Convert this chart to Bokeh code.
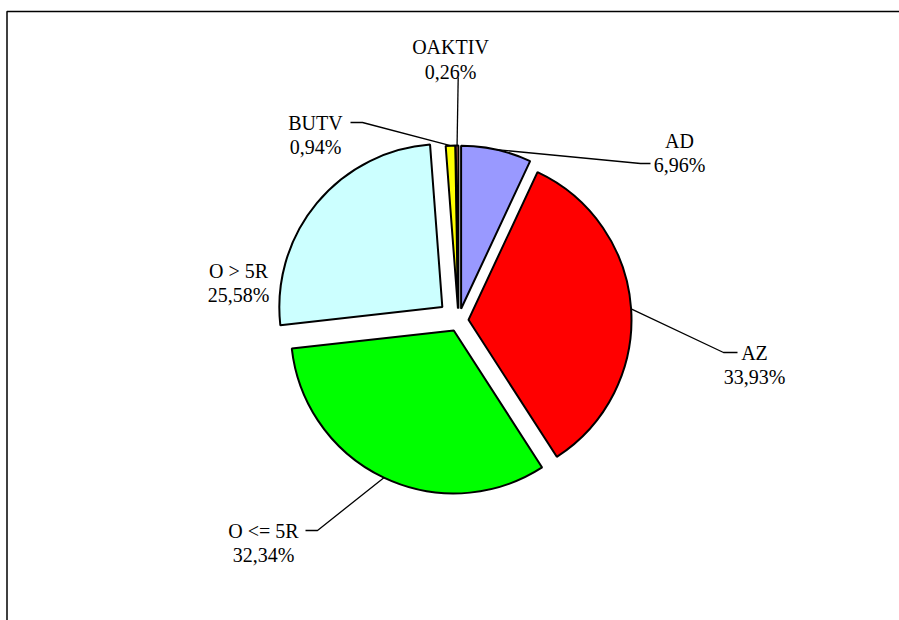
import math
from bokeh.plotting import figure
from bokeh.models import Range1d, ColumnDataSource
from bokeh.core.properties import value
from bokeh.embed import file_html
from bokeh.resources import INLINE

# ---- data ----
names = ["AD", "AZ", "O <= 5R", "O > 5R", "BUTV", "OAKTIV"]
values = [6.96, 33.93, 32.34, 25.58, 0.94, 0.26]
colors = ["#9999FF", "#FF0000", "#00FF00", "#CCFFFF", "#FFFF00", "#FF8080"]
explode = [12, 10, 11, 21, 12, 12]

# label layout (screen px): centre x, baseline of first line
label_x = [679, 754, 263, 238, 315, 450]
label_y = [140, 352, 530, 270, 122, 46.7]
# leader path after the arc point (screen px); None = no leader
leader_pts = [
    [(640, 163), (650, 163)],
    [(723, 352), (737, 352)],
    [(317, 530), (305, 530)],
    None,
    [(362, 122), (350, 122)],
    [(457.7, 77)],
]

W, H = 899, 620
CX, CY, R = 458, 320, 163
LINE2 = 24.5
FONT = value("Liberation Serif, Times New Roman, serif")

p = figure(width=W, height=H, output_backend="svg", toolbar_location=None,
           x_range=Range1d(0, W), y_range=Range1d(-H, 0),
           min_border=0, x_axis_type=None, y_axis_type=None)
p.outline_line_color = None
p.grid.visible = False
p.background_fill_color = "white"

# chart-area border (left and top visible)
p.line(x=[6.5, 6.5, 950], y=[-700, -11, -11], line_color="black", line_width=1.5)

total = sum(values)
theta = 0.0
wx, wy, ws, we = [], [], [], []
mids = []
for v, d in zip(values, explode):
    t1 = theta
    t2 = theta + v / total * 360.0
    tm = math.radians((t1 + t2) / 2)
    cx = CX + d * math.sin(tm)
    cy = -CY + d * math.cos(tm)
    wx.append(cx)
    wy.append(cy)
    ws.append(90 - t2)
    we.append(90 - t1)
    mids.append((cx + R * math.sin(tm), cy + R * math.cos(tm)))
    theta = t2

src = ColumnDataSource(dict(x=wx, y=wy, s=ws, e=we, c=colors))
p.wedge(x="x", y="y", radius=R, start_angle="s", end_angle="e",
        start_angle_units="deg", end_angle_units="deg", direction="anticlock",
        fill_color="c", line_color="black", line_width=2, source=src)

# leader lines
for (mx, my), pts in zip(mids, leader_pts):
    if pts is None:
        continue
    xs = [mx] + [q[0] for q in pts]
    ys = [my] + [-q[1] for q in pts]
    p.line(x=xs, y=ys, line_color="black", line_width=1.3)

pct = [("%.2f" % v).replace(".", ",") + "%" for v in values]
tx = label_x + label_x
ty = [-y for y in label_y] + [-(y + LINE2) for y in label_y]
tt = names + pct
p.text(x=tx, y=ty, text=tt, text_align="center", text_baseline="alphabetic",
       text_font=FONT, text_font_size=value("20px"),
       text_color="black")

open("out.html", "w").write(file_html(p, INLINE))
